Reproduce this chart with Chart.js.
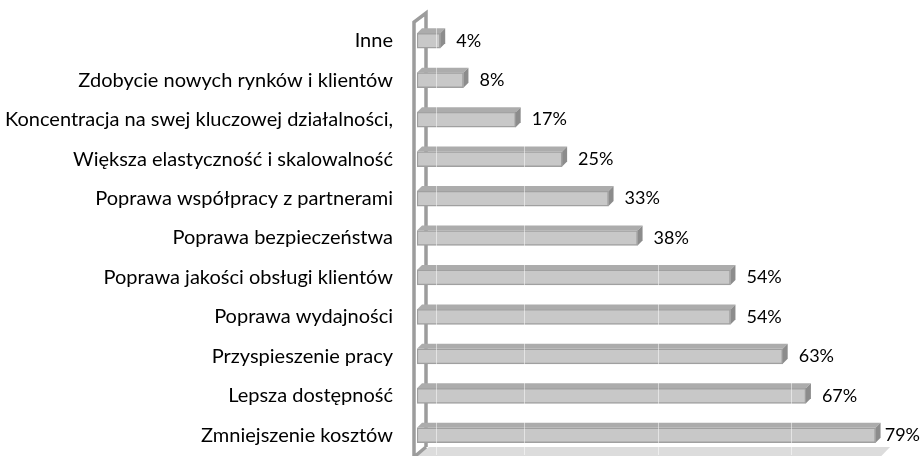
<!DOCTYPE html>
<html>
<head>
<meta charset="utf-8">
<script src="https://cdn.jsdelivr.net/npm/chart.js@4/dist/chart.umd.min.js"></script>
<style>
  html, body { margin: 0; padding: 0; background: #fff; }
  #wrap { width: 922px; height: 456px; }
</style>
</head>
<body>
<div id="wrap"><canvas id="chart"></canvas></div>
<script>
const labels = [
    'Inne',
    'Zdobycie nowych rynków i klientów',
    'Koncentracja na swej kluczowej działalności,',
    'Większa elastyczność i skalowalność',
    'Poprawa współpracy z partnerami',
    'Poprawa bezpieczeństwa',
    'Poprawa jakości obsługi klientów',
    'Poprawa wydajności',
    'Przyspieszenie pracy',
    'Lepsza dostępność',
    'Zmniejszenie kosztów'
];
const values = [4, 8, 17, 25, 33, 38, 54, 54, 63, 67, 79];
// faint back-wall gridlines showing through the bars
const gridValues = [3.3, 18.5, 41.5, 64.5];

const FONT = 'Lato, "Open Sans", sans-serif';

// fake 3d: wall, floor, top + side faces, value labels
const depth = {
    id: 'depth',
    beforeDatasetsDraw(chart) {
        const ctx = chart.ctx;
        const a = chart.chartArea;
        const xs = chart.scales.x;
        ctx.save();
        // floor
        ctx.fillStyle = '#dcdcdc';
        ctx.beginPath();
        ctx.moveTo(a.left + 12, a.bottom - 8);
        ctx.lineTo(xs.getPixelForValue(81.5), a.bottom - 8);
        ctx.lineTo(xs.getPixelForValue(80), a.bottom + 1);
        ctx.lineTo(a.left, a.bottom + 1);
        ctx.closePath();
        ctx.fill();
        // wall
        ctx.strokeStyle = '#9c9c9c';
        ctx.lineWidth = 3.5;
        ctx.beginPath();
        ctx.moveTo(a.left - 3, a.bottom + 2);
        ctx.lineTo(a.left - 3, a.top + 1);
        ctx.lineTo(a.left + 9, a.top - 8);
        ctx.lineTo(a.left + 9, a.bottom - 8);
        ctx.moveTo(a.left + 9, a.bottom - 8);
        ctx.lineTo(a.left - 3, a.bottom + 2);
        ctx.stroke();
        ctx.restore();
    },
    afterDatasetsDraw(chart) {
        const ctx = chart.ctx;
        const xs = chart.scales.x;
        const meta = chart.getDatasetMeta(0);
        const d = 5;
        ctx.save();
        meta.data.forEach(bar => {
            const p = bar.getProps(['x', 'y', 'base', 'height'], true);
            const top = p.y - p.height / 2;
            const bot = p.y + p.height / 2;
            // top face
            ctx.fillStyle = '#acacac';
            ctx.beginPath();
            ctx.moveTo(p.base, top);
            ctx.lineTo(p.base + d, top - d);
            ctx.lineTo(p.x + d, top - d);
            ctx.lineTo(p.x, top);
            ctx.closePath();
            ctx.fill();
            // side face
            ctx.fillStyle = '#8c8c8c';
            ctx.beginPath();
            ctx.moveTo(p.x, top);
            ctx.lineTo(p.x + d, top - d);
            ctx.lineTo(p.x + d, bot - d);
            ctx.lineTo(p.x, bot);
            ctx.closePath();
            ctx.fill();
        });
        // faint gridlines across bars
        ctx.strokeStyle = 'rgba(255,255,255,0.5)';
        ctx.lineWidth = 1;
        gridValues.forEach(v => {
            const gx = Math.round(xs.getPixelForValue(v)) + 0.5;
            ctx.beginPath();
            ctx.moveTo(gx, chart.chartArea.top - 8);
            ctx.lineTo(gx, chart.chartArea.bottom);
            ctx.stroke();
        });
        // value labels
        ctx.fillStyle = '#000';
        ctx.font = '18px ' + FONT;
        ctx.textBaseline = 'middle';
        ctx.textAlign = 'left';
        meta.data.forEach((bar, i) => {
            const txt = values[i] + '%';
            const w = ctx.measureText(txt).width;
            let tx = bar.x + 16;
            if (tx + w > chart.width - 2) tx = chart.width - 2 - w;
            ctx.fillText(txt, tx, bar.y);
        });
        ctx.restore();
    }
};

new Chart(document.getElementById('chart').getContext('2d'), {
    type: 'bar',
    data: {
        labels: labels,
        datasets: [{
            data: values,
            backgroundColor: '#c8c8c8',
            borderColor: '#a0a0a0',
            borderWidth: 1.5,
            borderSkipped: false,
            barThickness: 15
        }]
    },
    options: {
        indexAxis: 'y',
        responsive: true,
        maintainAspectRatio: false,
        animation: false,
        layout: { padding: { top: 21, bottom: 1, left: 0, right: 0 } },
        plugins: {
            legend: { display: false },
            tooltip: { enabled: false }
        },
        scales: {
            x: { min: 0, max: 87, display: false },
            y: {
                afterFit(scale) { scale.width = 417; },
                grid: { display: false, drawTicks: true, tickLength: 24 },
                border: { display: false },
                ticks: {
                    color: '#000',
                    padding: 0,
                    font: { family: FONT, size: 20, lineHeight: 0.1 }
                }
            }
        }
    },
    plugins: [depth]
});
</script>
</body>
</html>
